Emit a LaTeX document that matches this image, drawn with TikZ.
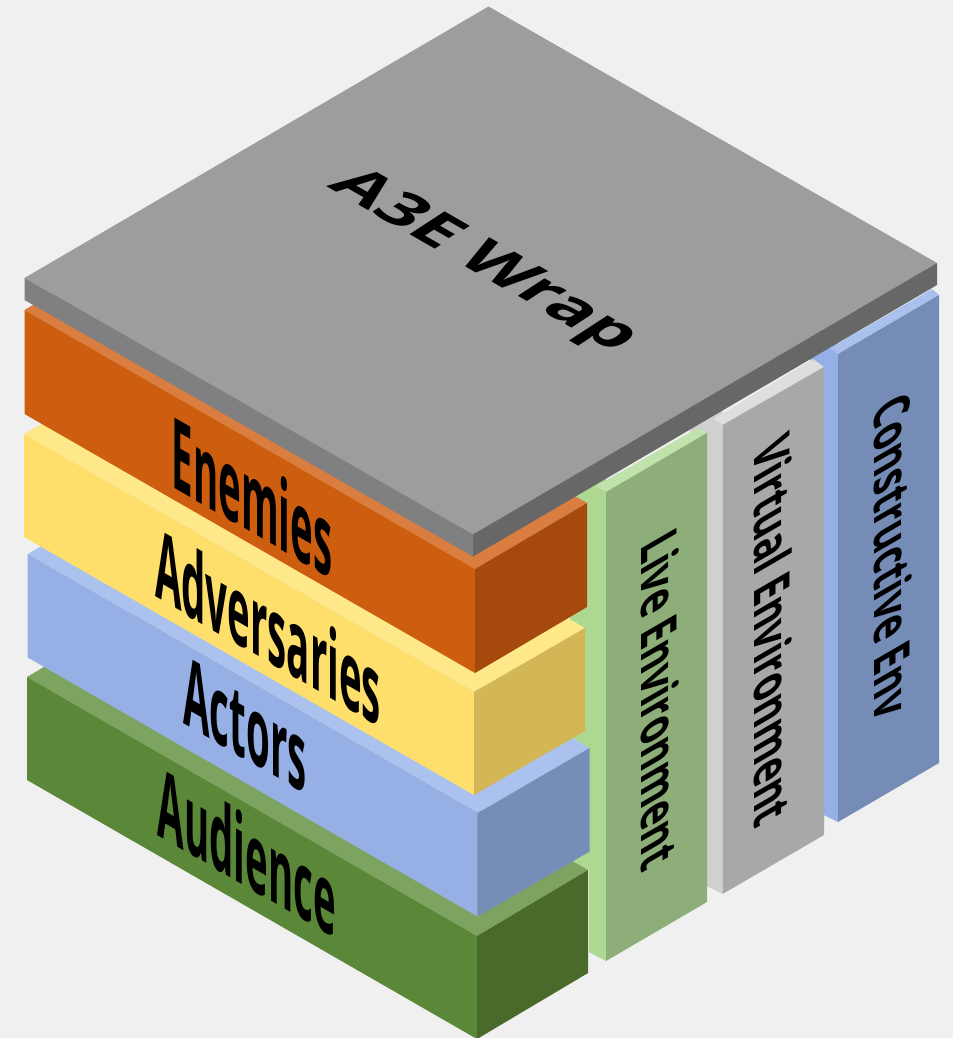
\documentclass[tikz,border=0pt]{standalone}
\usepackage{fontspec}
\setmainfont{Open Sans}
\definecolor{bg}{HTML}{F0F0F0}
\definecolor{wrapT}{HTML}{9D9D9D}\definecolor{wrapL}{HTML}{808080}\definecolor{wrapR}{HTML}{676767}
\definecolor{orF}{HTML}{CD5E10}\definecolor{orR}{HTML}{A54A0C}\definecolor{orT}{HTML}{D97D40}
\definecolor{yeF}{HTML}{FFDF6B}\definecolor{yeR}{HTML}{D3B655}\definecolor{yeT}{HTML}{FFE889}
\definecolor{blF}{HTML}{96B0E6}\definecolor{blR}{HTML}{768DB8}\definecolor{blT}{HTML}{AAC2ED}
\definecolor{grF}{HTML}{5A8738}\definecolor{grR}{HTML}{496A2A}\definecolor{grT}{HTML}{7CA460}
\definecolor{liF}{HTML}{8DAE78}\definecolor{liL}{HTML}{AED891}\definecolor{liT}{HTML}{C0E2AB}
\definecolor{viF}{HTML}{A8A8A8}\definecolor{viL}{HTML}{D0D0D0}\definecolor{viT}{HTML}{DEDEDE}
\definecolor{coF}{HTML}{758CB6}\definecolor{coL}{HTML}{95B0E6}\definecolor{coT}{HTML}{A9C1EC}
\newcommand{\isoblock}[9]{%
  % #1-#3 colours, #4 x left, #5 y left top, #6 x front, #7 y front top, #8 x right, #9 y right top
  \fill[#3] (#4,#5) -- (#6,#7) -- (#8,#9) -- ({#4+#8-#6},{#5+#9-#7}) -- cycle;
  \fill[#1] (#4,#5) -- (#6,#7) -- (#6,{#7+\blockh}) -- (#4,{#5+\blockh}) -- cycle;
  \fill[#2] (#6,#7) -- (#8,#9) -- (#8,{#9+\blockh}) -- (#6,{#7+\blockh}) -- cycle;}
\newcommand{\skewtext}[8]{%
  \begin{scope}[shift={(#2,#3)},cm={#4,#5,#6,#7,(0,0)}]
    \node[lab,transform shape] (#1) at (0,0) {#8};
  \end{scope}}
\tikzset{lab/.style={inner sep=0pt,font=\fontsize{40}{48}\selectfont\bfseries,text=black}}
\begin{document}
\begin{tikzpicture}[x=0.75pt,y=-0.75pt]
\useasboundingbox (0,0) rectangle (953,1038);
\fill[bg] (0,0) rectangle (953,1038);
% vertical panels
\fill[coL] (810,330) -- (838,330) -- (838,822) -- (824,815) -- (824,400) -- (810,400) -- cycle;
\fill[coT] (838,354) -- (939,295) -- (932,289) -- (830,348) -- cycle;
\fill[coF] (838,354) -- (939,295) -- (939,763) -- (838,822) -- cycle;
\fill[viL] (690,410) -- (722.5,410) -- (722.5,894) -- (707,886) -- (707,450) -- (690,450) -- cycle;
\fill[viT] (722.5,425) -- (824,367) -- (813,359) -- (713,419) -- cycle;
\fill[viF] (722.5,425) -- (824,367) -- (824,835) -- (722.5,894) -- cycle;
\fill[liL] (570,470) -- (606,470) -- (606,961) -- (589,952) -- (589,870) -- (570,870) -- cycle;
\fill[liT] (606,492) -- (707,433) -- (698,428) -- (596,486) -- cycle;
\fill[liF] (606,492) -- (707,433) -- (707,902) -- (606,961) -- cycle;
% stacked blocks
\def\blockh{103}
\isoblock{grF}{grR}{grT}{27}{677}{477}{936}{588}{870}
\def\blockh{103.5}
\isoblock{blF}{blR}{blT}{27.7}{554}{477.7}{813}{589.6}{748}
\def\blockh{103}
\isoblock{yeF}{yeR}{yeT}{24}{434}{474}{692}{585}{628}
\def\blockh{104}
\isoblock{orF}{orR}{orT}{24.5}{310}{475}{569}{587}{503}
% top slab
\def\blockh{22}
\isoblock{wrapL}{wrapR}{wrapT}{24.5}{278}{473}{534.5}{937}{263}
% labels
\skewtext{wrap}{483}{262}{1.15}{-0.66}{0.92}{0.6}{A3E Wrap}
\skewtext{enemies}{252}{496}{0.72}{-0.415}{0}{1.85}{Enemies}
\skewtext{adversaries}{268}{626}{0.72}{-0.415}{0}{1.8}{Adversaries}
\skewtext{actors}{245}{725}{0.72}{-0.415}{0}{1.8}{Actors}
\skewtext{audience}{247}{851}{0.72}{-0.415}{0}{1.8}{Audience}
\skewtext{live}{660}{699}{0}{-0.705}{0.93}{0.54}{Live Environment}
\skewtext{virtual}{773}{630}{0}{-0.705}{0.93}{0.54}{Virtual Environment}
\skewtext{constructive}{893}{556}{0}{-0.705}{0.93}{0.54}{Constructive Env}
\end{tikzpicture}
\end{document}
